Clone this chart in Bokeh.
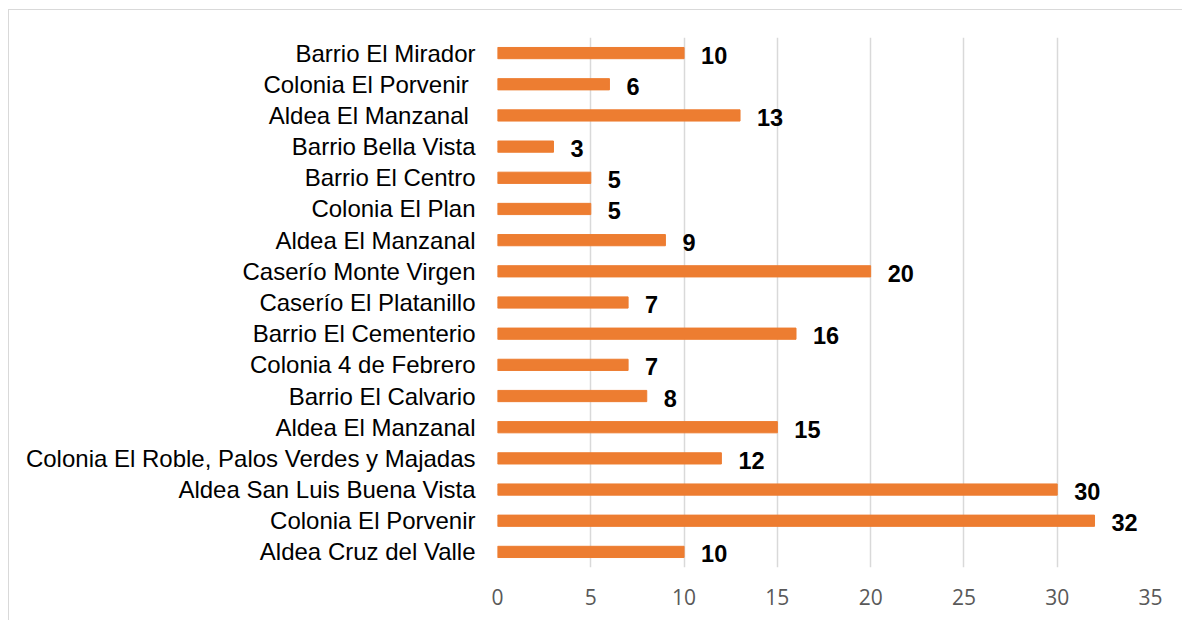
from bokeh.plotting import figure
from bokeh.models import ColumnDataSource, FixedTicker, Range1d
from bokeh.core.properties import value
from bokeh.embed import file_html
from bokeh.resources import INLINE

categories = [
    "Barrio El Mirador",
    "Colonia El Porvenir ",
    "Aldea El Manzanal ",
    "Barrio Bella Vista",
    "Barrio El Centro",
    "Colonia El Plan",
    "Aldea El Manzanal",
    "Caserío Monte Virgen",
    "Caserío El Platanillo",
    "Barrio El Cementerio",
    "Colonia 4 de Febrero",
    "Barrio El Calvario",
    "Aldea El Manzanal",
    "Colonia El Roble, Palos Verdes y Majadas",
    "Aldea San Luis Buena Vista",
    "Colonia El Porvenir",
    "Aldea Cruz del Valle",
]
counts = [10, 6, 13, 3, 5, 5, 9, 20, 7, 16, 7, 8, 15, 12, 30, 32, 10]
x_ticks = [0, 5, 10, 15, 20, 25, 30, 35]

n = len(categories)
ypos = [n - 1 - i for i in range(n)]
source = ColumnDataSource(dict(y=ypos, v=counts, lab=[str(c) for c in counts]))

p = figure(width=1174, height=611, output_backend="svg", toolbar_location=None,
           x_range=Range1d(0, 35), y_range=Range1d(-0.5, n - 0.5),
           min_border_left=488, min_border_right=33, min_border_top=27, min_border_bottom=54,
           styles={"border-top": "1px solid #d9d9d9", "border-left": "1px solid #d9d9d9",
                   "margin-left": "8px", "margin-top": "9px"})
p.outline_line_color = None

p.hbar(y="y", right="v", left=0, height=0.36, color="#ED7D31", source=source)
p.text(x="v", y="y", text="lab", source=source, x_offset=17, y_offset=2,
       text_baseline="middle", text_align="left",
       text_font=value("Liberation Sans"), text_font_style="bold",
       text_font_size="23.5px", text_color="black")

p.xaxis.ticker = FixedTicker(ticks=x_ticks)
p.xaxis.axis_line_color = None
p.xaxis.major_tick_line_color = None
p.xaxis.minor_tick_line_color = None
p.xaxis.major_tick_out = 0
p.xaxis.major_label_standoff = 21
p.xaxis.major_label_text_font = "Open Sans"
p.xaxis.major_label_text_font_size = "21px"
p.xaxis.major_label_text_color = "#595959"

p.yaxis.ticker = FixedTicker(ticks=ypos)
p.yaxis.major_label_overrides = {yy: c for yy, c in zip(ypos, categories)}
p.yaxis.axis_line_color = None
p.yaxis.major_tick_line_color = None
p.yaxis.minor_tick_line_color = None
p.yaxis.major_tick_out = 0
p.yaxis.major_label_standoff = 22
p.yaxis.major_label_text_font = "Liberation Sans"
p.yaxis.major_label_text_font_size = "24px"
p.yaxis.major_label_text_color = "black"

p.xgrid.ticker = FixedTicker(ticks=x_ticks)
p.xgrid.grid_line_color = "#d9d9d9"
p.xgrid.grid_line_width = 1.5
p.ygrid.grid_line_color = None

open("out.html", "w").write(file_html(p, INLINE))
